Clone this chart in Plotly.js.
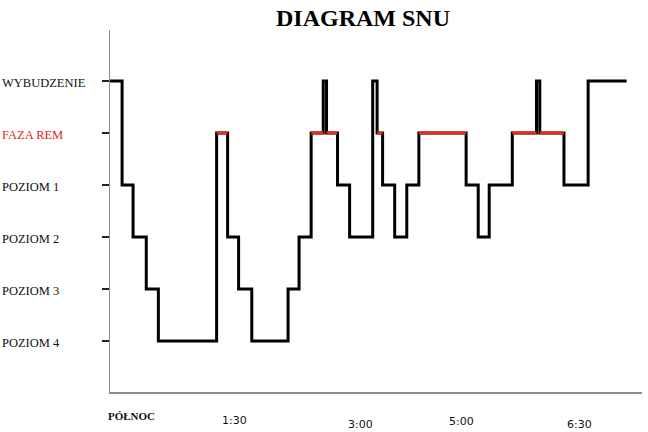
<!DOCTYPE html>
<html>
<head>
<meta charset="utf-8">
<script src="https://cdn.plot.ly/plotly-3.0.1.min.js"></script>
<style>html,body{margin:0;padding:0;background:#fff;}#chart{width:648px;height:432px;}</style>
</head>
<body>
<div id="chart"></div>
<script>
// Sleep stage levels (0 = deepest)
const stageNames = ["POZIOM 4", "POZIOM 3", "POZIOM 2", "POZIOM 1", "FAZA REM", "WYBUDZENIE"];
const stageValues = [0, 1, 2, 3, 4, 5];
const REM = 4;

// Hypnogram: start of each segment (minutes) and the stage held
const segmentStart = [0, 11, 21, 33, 44, 97, 107, 117, 129, 162, 172, 183, 194, 197, 207, 218, 239, 243, 248, 259, 270, 281, 324, 335, 345, 366, 388, 391, 413, 435];
const segmentStage = [5, 3, 2, 1, 0, 4, 2, 1, 0, 1, 2, 4, 5, 4, 3, 2, 5, 4, 3, 2, 3, 4, 3, 2, 3, 4, 5, 4, 3, 5];
const endTime = 470;

// Time labels under the axis
const timeLabels = ["PÓŁNOC", "1:30", "3:00", "5:00", "6:30"];
const timeLabelAt = [19.5, 113, 228, 320, 427];

// build step line
const xs = segmentStart.concat([endTime]);
const ys = segmentStage.concat([segmentStage[segmentStage.length - 1]]);

// red REM segments
const rx = [], ry = [];
for (let i = 0; i < segmentStart.length; i++) {
  if (segmentStage[i] === REM) {
    const end = i + 1 < segmentStart.length ? segmentStart[i + 1] : endTime;
    rx.push(segmentStart[i], end, null);
    ry.push(REM, REM, null);
  }
}

const traces = [
  {x: xs, y: ys, type: "scatter", mode: "lines", line: {shape: "hv", color: "#000", width: 3}, hoverinfo: "skip"},
  {x: rx, y: ry, type: "scatter", mode: "lines", line: {color: "#e8291c", width: 3}, connectgaps: false, hoverinfo: "skip"}
];

const plotW = 648 - 110 - 6;
const plotH = 432 - 30 - 40;
const annotations = [];
stageNames.forEach((n, i) => {
  annotations.push({
    text: n, xref: "paper", x: -110 / plotW, xanchor: "left",
    yref: "y", y: stageValues[i], yanchor: "middle", yshift: -2,
    showarrow: false,
    font: {family: "Liberation Serif, Times New Roman, serif", size: 12.5, color: stageValues[i] === REM ? "#e0281c" : "#111"}
  });
});
const labelPix = [416, 420, 424, 421, 424];
timeLabels.forEach((t, i) => {
  const first = i === 0;
  annotations.push({
    text: first ? "<b>" + t + "</b>" : t, xref: "x", x: timeLabelAt[i], xanchor: "center",
    yref: "paper", y: (392 - labelPix[i]) / plotH, yanchor: "middle",
    showarrow: false,
    font: first ? {family: "Liberation Serif, serif", size: 11, color: "#111"} : {family: "DejaVu Sans, sans-serif", size: 11, color: "#111"}
  });
});

const layout = {
  width: 648, height: 432,
  margin: {l: 110, r: 6, t: 30, b: 40},
  paper_bgcolor: "#fff", plot_bgcolor: "#fff",
  showlegend: false,
  title: {text: "<b>DIAGRAM SNU</b>", x: 363 / 648, xanchor: "center", y: 1 - 18 / 432, yanchor: "middle",
    font: {family: "Liberation Serif, Times New Roman, serif", size: 24, color: "#000"}},
  xaxis: {range: [0, 484], showline: true, linecolor: "#8c8c8c", linewidth: 1.5, showgrid: false, zeroline: false,
    ticks: "", showticklabels: false, fixedrange: true},
  yaxis: {range: [-0.98, 5.98], showline: true, linecolor: "#8c8c8c", linewidth: 1.5, showgrid: false, zeroline: false,
    tickvals: stageValues, ticks: "outside", ticklen: 7, tickwidth: 1.5, tickcolor: "#222", showticklabels: false, fixedrange: true},
  annotations: annotations
};

Plotly.newPlot("chart", traces, layout, {displayModeBar: false, staticPlot: true});
</script>
</body>
</html>
